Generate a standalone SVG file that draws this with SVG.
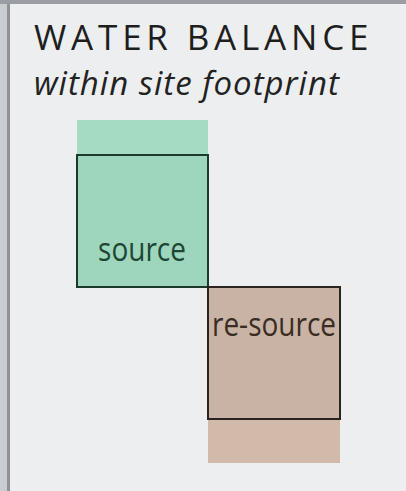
<svg xmlns="http://www.w3.org/2000/svg" width="406" height="491" viewBox="0 0 406 491">
  <style>
    .title { font-family: "Open Sans", "DejaVu Sans", sans-serif; font-size: 35px; fill: #1e1e1e; letter-spacing: 4.8px; }
    .sub { font-family: "Open Sans", "DejaVu Sans", sans-serif; font-style: italic; font-size: 33px; fill: #222; letter-spacing: 1px; }
    .lbl { font-family: "Open Sans", "DejaVu Sans", sans-serif; font-size: 28px; }
    .box { stroke-width: 2; }
  </style>
  <rect x="0" y="0" width="406" height="491" fill="#eceeef"/>
  <rect x="0" y="0" width="8" height="491" fill="#c9cdd1"/>
  <rect x="7" y="0" width="3" height="491" fill="#8d9296"/>
  <rect x="0" y="0" width="406" height="4" fill="#9a9ea2"/>
  <g id="title">
    <text class="title" x="34" y="50">WATER BALANCE</text>
    <text class="sub" x="34" y="95">within site footprint</text>
  </g>
  <g id="source">
    <rect x="77" y="120" width="131" height="36" fill="#a6dbc3"/>
    <rect class="box" x="77" y="155" width="131" height="132" fill="#9ed6bd" stroke="#1c3a2c"/>
    <text class="lbl" transform="scale(1,1.15)" x="142" y="227" text-anchor="middle" fill="#1e4634">source</text>
  </g>
  <g id="re-source">
    <rect x="208" y="419" width="132" height="44" fill="#d1baaa"/>
    <rect class="box" x="208" y="287" width="132" height="132" fill="#c9b3a5" stroke="#2a2420"/>
    <text class="lbl" transform="scale(1,1.15)" x="274" y="292" text-anchor="middle" fill="#3a2c24">re-source</text>
  </g>
  <g id="connectors"/>
</svg>
